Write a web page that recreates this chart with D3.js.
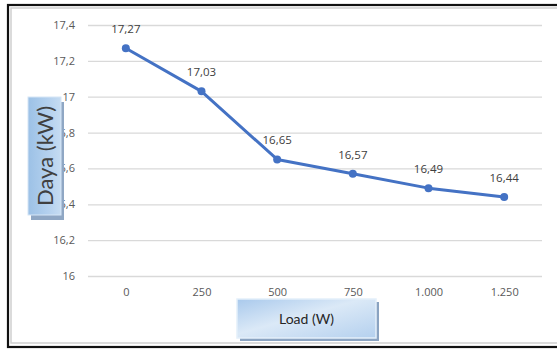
<!DOCTYPE html>
<html>
<head>
<meta charset="utf-8">
<script src="https://cdn.jsdelivr.net/npm/d3@7"></script>
<style>
  html, body { margin: 0; padding: 0; background: #fff; }
  svg text { font-family: "Open Sans", Lato, sans-serif; }
  svg text.title { font-family: Lato, "Open Sans", sans-serif; }
</style>
</head>
<body>
<svg id="chart" width="557" height="350"></svg>
<script>
// Load levels (W) and the measured power (kW) at each level
const loads = ["0", "250", "500", "750", "1.000", "1.250"];
const daya = [17.27, 17.03, 16.65, 16.57, 16.49, 16.44];
const yTicks = [16, 16.2, 16.4, 16.6, 16.8, 17, 17.2, 17.4];

const fmtComma = v => String(+v.toFixed(2)).replace(".", ",");

const svg = d3.select("#chart");

const plot = { left: 88, right: 542, top: 25, bottom: 276 };

const x = d3.scalePoint().domain(loads).range([plot.left, plot.right]).padding(0.5);
const y = d3.scaleLinear().domain([16, 17.4]).range([plot.bottom, plot.top]);

const defs = svg.append("defs");
const gY = defs.append("linearGradient").attr("id", "gY").attr("x1", 0).attr("x2", 1).attr("y1", 0).attr("y2", 0);
gY.append("stop").attr("offset", "0%").attr("stop-color", "#9cc1e6");
gY.append("stop").attr("offset", "60%").attr("stop-color", "#b3d0ee");
gY.append("stop").attr("offset", "100%").attr("stop-color", "#c6dcf2");
const gX = defs.append("linearGradient").attr("id", "gX").attr("x1", 0).attr("x2", 1).attr("y1", 0).attr("y2", 1);
gX.append("stop").attr("offset", "0%").attr("stop-color", "#a9c9ec");
gX.append("stop").attr("offset", "45%").attr("stop-color", "#dbe9f7");
gX.append("stop").attr("offset", "100%").attr("stop-color", "#b4d0ee");

// Outer frame
svg.append("rect").attr("x", 11).attr("y", 8).attr("width", 560).attr("height", 335)
  .attr("fill", "none").attr("stroke", "#cfcfcf").attr("stroke-width", 1.5);
svg.append("rect").attr("x", 8).attr("y", 5).attr("width", 560).attr("height", 342)
  .attr("fill", "none").attr("stroke", "#111").attr("stroke-width", 2.2);

// Horizontal gridlines
const yAxis = d3.axisLeft(y).tickValues(yTicks).tickFormat(fmtComma)
  .tickSize(-(plot.right - plot.left)).tickPadding(13);
const gy = svg.append("g").attr("transform", `translate(${plot.left},0)`).call(yAxis);
gy.select(".domain").remove();
gy.selectAll(".tick line").attr("stroke", "#d9d9d9").attr("stroke-width", 1.3);
gy.selectAll(".tick text").attr("fill", "#595959").style("font-size", "11px");

// Category labels along the bottom
const xAxis = d3.axisBottom(x).tickSize(0).tickPadding(12);
const gx = svg.append("g").attr("transform", `translate(0,${plot.bottom})`).call(xAxis);
gx.select(".domain").remove();
gx.selectAll(".tick text").attr("fill", "#595959").style("font-size", "11px");

// Power curve
const line = d3.line().x((d, i) => x(loads[i])).y(d => y(d));
svg.append("path").datum(daya).attr("d", line)
  .attr("fill", "none").attr("stroke", "#4472c4").attr("stroke-width", 3)
  .attr("stroke-linejoin", "round");
svg.selectAll("circle.pt").data(daya).join("circle").attr("class", "pt")
  .attr("cx", (d, i) => x(loads[i])).attr("cy", d => y(d)).attr("r", 4)
  .attr("fill", "#4472c4");
svg.selectAll("text.lbl").data(daya).join("text").attr("class", "lbl")
  .attr("x", (d, i) => x(loads[i])).attr("y", d => y(d) - 15)
  .attr("text-anchor", "middle").attr("fill", "#404040").style("font-size", "11.5px")
  .text(d => fmtComma(d));

// Y-axis title box
const yBox = { x: 28, y: 97, w: 33, h: 118 };
svg.append("rect").attr("x", yBox.x + 3).attr("y", yBox.y + 5).attr("width", yBox.w).attr("height", yBox.h)
  .attr("fill", "#8fa7c4");
svg.append("rect").attr("x", yBox.x).attr("y", yBox.y).attr("width", yBox.w).attr("height", yBox.h)
  .attr("fill", "url(#gY)").attr("stroke", "#d6e6f6").attr("stroke-width", 1);
svg.append("text").attr("class", "title")
  .attr("transform", `translate(${yBox.x + yBox.w / 2 + 8},${yBox.y + yBox.h / 2}) rotate(-90)`)
  .attr("text-anchor", "middle").attr("fill", "#404040").style("font-size", "22px")
  .text("Daya (kW)");

// X-axis title box
const xBox = { x: 237, y: 299, w: 139, h: 39 };
svg.append("rect").attr("x", xBox.x + 3).attr("y", xBox.y + 3).attr("width", xBox.w).attr("height", xBox.h)
  .attr("fill", "#8aa3c1");
svg.append("rect").attr("x", xBox.x).attr("y", xBox.y).attr("width", xBox.w).attr("height", xBox.h)
  .attr("fill", "url(#gX)").attr("stroke", "#e4effa").attr("stroke-width", 1.5);
svg.append("text").attr("class", "title")
  .attr("x", xBox.x + xBox.w / 2).attr("y", xBox.y + xBox.h / 2 + 5)
  .attr("text-anchor", "middle").attr("fill", "#262626").style("font-size", "14px")
  .text("Load (W)");
</script>
</body>
</html>
